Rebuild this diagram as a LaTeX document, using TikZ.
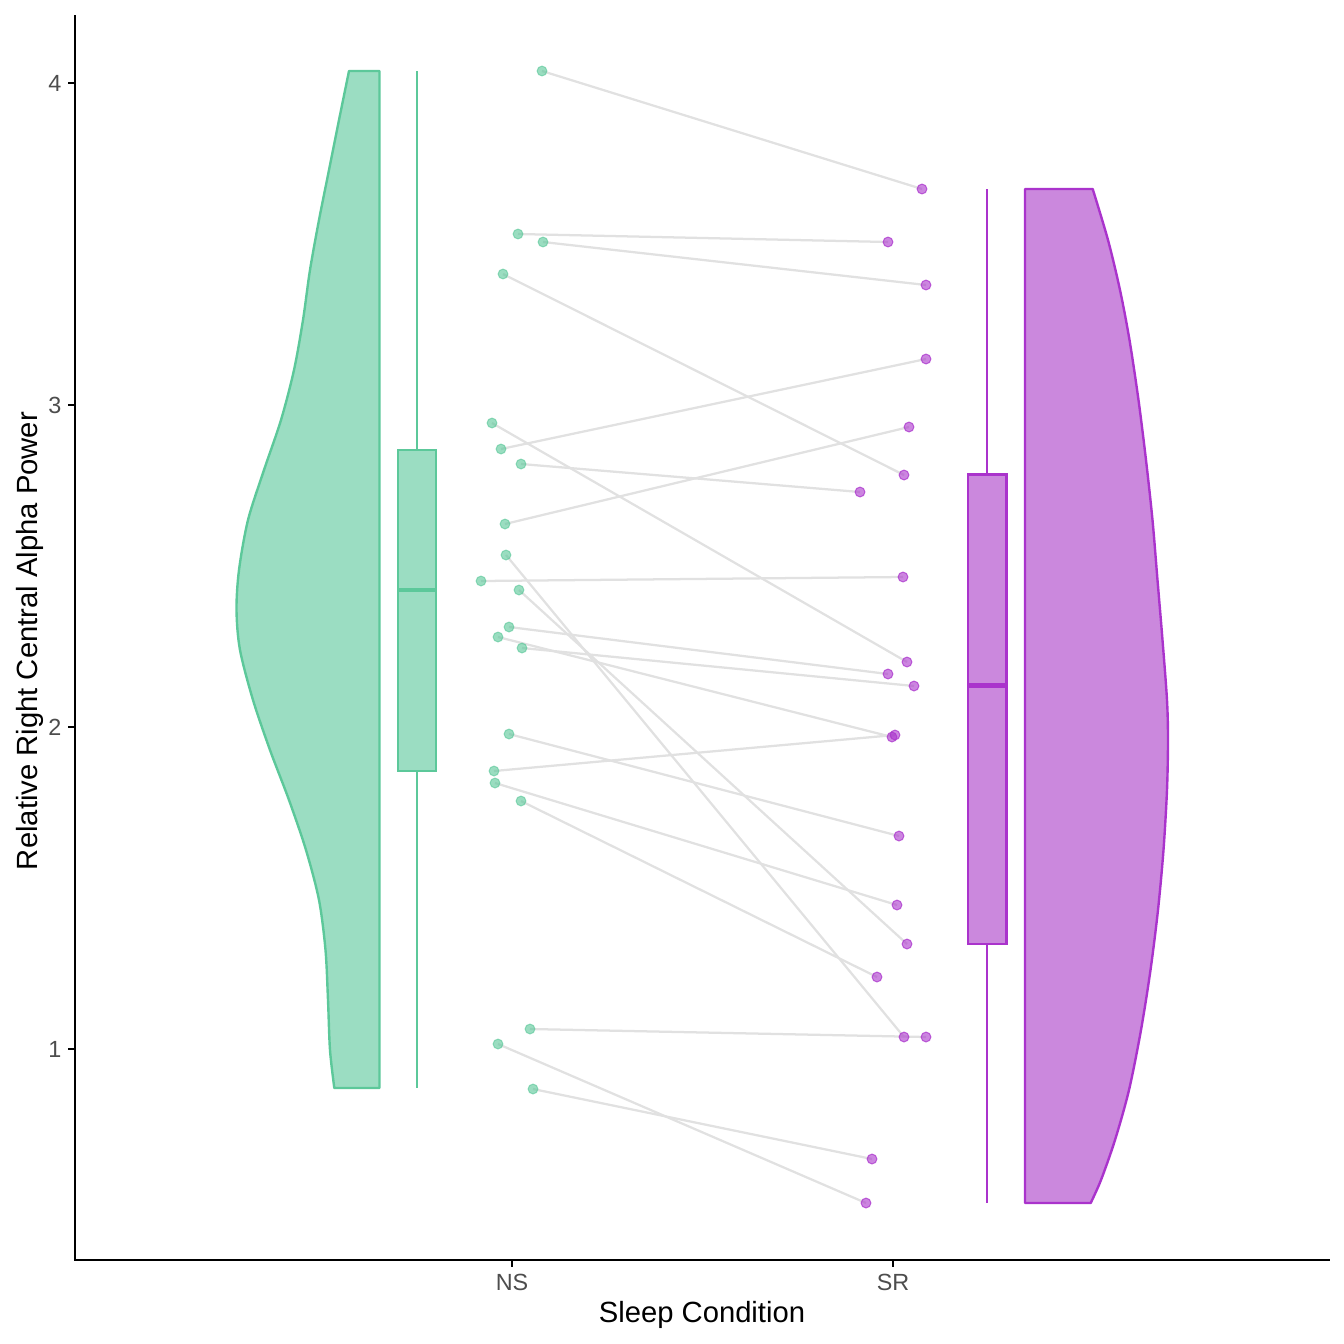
\documentclass[tikz,border=0pt]{standalone}
\usepackage{fontspec}
\setmainfont{Liberation Sans}
\usetikzlibrary{positioning}

\definecolor{nsline}{HTML}{5CC89A}
\definecolor{nsfill}{HTML}{9BDDC2}
\definecolor{srline}{HTML}{AA33CC}
\definecolor{srfill}{HTML}{CB88DD}
\definecolor{pairgray}{HTML}{E1E1E1}
\definecolor{tickgray}{HTML}{4D4D4D}

\begin{document}
\begin{tikzpicture}[
    x=0.3764pt, y=-0.3764pt,
    font=\fontsize{8.8}{10}\selectfont,
    axisline/.style={line width=0.8pt, black},
    ticklabel/.style={text=tickgray, inner sep=0pt},
    axistitle/.style={font=\fontsize{11}{13}\selectfont, inner sep=0pt},
    nsviolin/.style={draw=nsline, fill=nsfill, line width=0.9pt, line join=round},
    srviolin/.style={draw=srline, fill=srfill, line width=0.9pt, line join=round},
    pairline/.style={pairgray, line width=0.85pt},
    nsdot/.style={circle, inner sep=0pt, minimum size=3.7pt, draw=nsline, fill=nsline, draw opacity=0.6, fill opacity=0.62, line width=0.4pt},
    srdot/.style={circle, inner sep=0pt, minimum size=3.7pt, draw=srline, fill=srline, draw opacity=0.7, fill opacity=0.6, line width=0.4pt}
]
    \useasboundingbox (0,0) rectangle (1344,1344);

    % Half violins
    \draw[nsviolin] (379.5,71) -- plot[smooth, tension=0.5] coordinates {(349,71) (339,120) (329,170) (319,220) (310,270) (303,320) (294,370) (281,420) (264,470) (248,520) (239,570) (236.5,610) (240,650) (253,700) (270,750) (289,800) (306,850) (319,900) (325.5,950) (328,1000) (330,1050) (334.3,1088)} -- (379.5,1088) -- cycle;
    \draw[srviolin] (1025,189) -- plot[smooth, tension=0.5] coordinates {(1092.7,189) (1108,240) (1120,290) (1129.5,340) (1138.5,400) (1146,460) (1152.5,520) (1157.5,580) (1162.5,640) (1167,700) (1168,740) (1167,790) (1163.5,850) (1158,910) (1150.5,970) (1141,1030) (1129,1090) (1115,1140) (1101,1180) (1090.7,1203)} -- (1025,1203) -- cycle;

    % Boxplots
    \coordinate (nstop) at (417,71);
    \coordinate (nsbot) at (417,1088);
    \coordinate (srtop) at (987,189);
    \coordinate (srbot) at (987,1203);
    \draw[nsline, line width=0.8pt] (nstop) -- (417,450) (417,771) -- (nsbot);
    \draw[nsline, fill=nsfill, line width=0.8pt] (398,450) rectangle (436,771);
    \draw[nsline, line width=1.6pt] (398,590) -- (436,590);
    \draw[srline, line width=0.8pt] (srtop) -- (987,474.5) (987,944) -- (srbot);
    \draw[srline, fill=srfill, line width=0.8pt] (968,474.5) rectangle (1006.5,944);
    \draw[srline, line width=1.6pt] (968,685.5) -- (1006.5,685.5);

    % Paired points
    \foreach \i/\nx/\ny/\sx/\sy in {
        1/542/71/922/189, 2/518/234/888/242, 3/543/242/926/285,
        4/503/274/904/475, 5/501/449/926/359, 6/492/423/907/662,
        7/521/464/860/492, 8/505/524/909/427, 9/506/555/904/1037,
        10/481/581/903/577, 11/519/590/907/944, 12/509/627/888/674,
        13/498/637/892/737, 14/522/648/914/686, 15/509/734/899/836,
        16/494/771/895/735, 17/495/783/897/905, 18/521/801/877/977,
        19/530/1029/926/1037, 20/498/1044/866/1203, 21/533/1089/872/1159} {
        \coordinate (ns\i) at (\nx,\ny);
        \coordinate (sr\i) at (\sx,\sy);
        \draw[pairline] (ns\i) -- (sr\i);
    }
    \foreach \i in {1,...,21} {
        \node[nsdot] (nsdot\i) at (ns\i) {};
        \node[srdot] (srdot\i) at (sr\i) {};
    }

    % Axes
    \draw[axisline] (75,15) -- (75,1260) -- (1330,1260);
    \foreach \v/\py in {1/1049, 2/727, 3/405, 4/83} {
        \draw[axisline] (68,\py) -- (75,\py);
        \node[ticklabel, anchor=east] (ytick\v) at (62,\py) {\v};
    }
    \foreach \lab/\px in {NS/512, SR/893} {
        \draw[axisline] (\px,1260) -- (\px,1267);
        \node[ticklabel, anchor=base] (xtick\lab) at (\px,1290.5) {\lab};
    }
    \node[axistitle, anchor=base] (xtitle) at (702,1322) {Sleep Condition};
    \node[axistitle, anchor=base, rotate=90] (ytitle) at (37,641) {Relative Right Central Alpha Power};
\end{tikzpicture}
\end{document}
